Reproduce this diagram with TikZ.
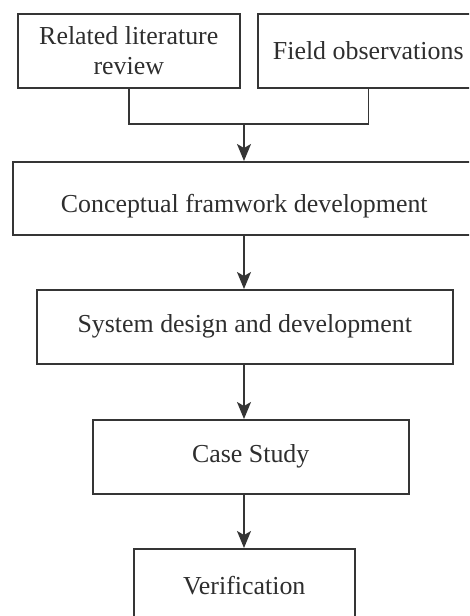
\documentclass[tikz,border=0pt]{standalone}
\usepackage{fontspec}
\setmainfont{Liberation Serif}
\usetikzlibrary{arrows.meta}
\definecolor{edge}{HTML}{353535}
\definecolor{ink}{HTML}{2E2E2E}
\tikzset{
  stagebox/.style={draw=edge, line width=1.5pt, rectangle, anchor=north west,
    align=center, text=ink, font=\fontsize{25.9}{30}\selectfont, inner sep=0pt},
  flow/.style={draw=edge, line width=1.5pt, -{Stealth[length=17pt, width=14pt, inset=4pt]}},
  link/.style={draw=edge, line width=1.5pt}
}
\begin{document}
\begin{tikzpicture}[x=1pt, y=1pt]
  \useasboundingbox (0,0) rectangle (469,-616);
  \clip (0,0) rectangle (469,-616);
  % input stages
  \node[stagebox, minimum width=222pt, minimum height=74pt] (lit) at (17,-13) {Related literature\\review};
  \node[stagebox, minimum width=221pt, minimum height=74pt] (obs) at (257,-13) {Field observations};
  % main sequence
  \node[stagebox, minimum width=463pt, minimum height=73pt, text height=34pt, text depth=5.7pt] (concept) at (12,-161) {Conceptual framwork development};
  \node[stagebox, minimum width=416pt, minimum height=74pt] (design) at (36,-289) {System design and development};
  \node[stagebox, minimum width=316pt, minimum height=74pt] (case) at (92,-419) {Case Study};
  \node[stagebox, minimum width=221pt, minimum height=74pt] (verif) at (133,-548) {Verification};
  % merge of the two inputs
  \coordinate (join) at (244,-124);
  \draw[link] (lit.south) |- (join) -| (obs.south);
  \draw[flow] (join) -- (join |- concept.north);
  % sequence arrows
  \draw[flow] (join |- concept.south) -- (join |- design.north);
  \draw[flow] (join |- design.south) -- (join |- case.north);
  \draw[flow] (join |- case.south) -- (join |- verif.north);
\end{tikzpicture}
\end{document}
